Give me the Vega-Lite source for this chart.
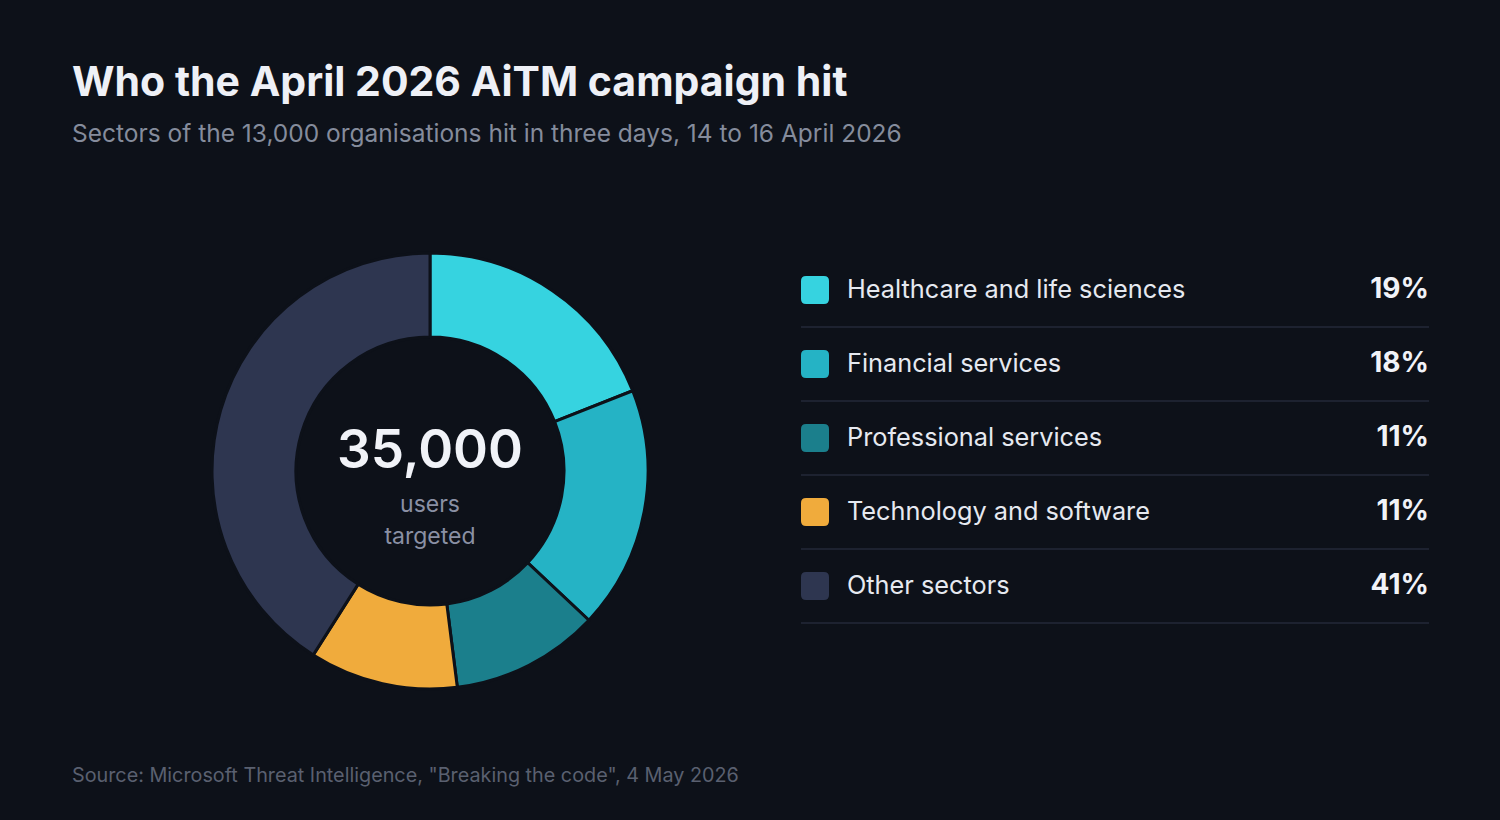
{
  "$schema": "https://vega.github.io/schema/vega-lite/v6.json",
  "description": "Sectors hit by the April 2026 AiTM campaign",
  "background": "#0d1119",
  "padding": {"left": 72, "right": 72, "top": 62, "bottom": 34},
  "title": {
    "text": "Who the April 2026 AiTM campaign hit",
    "subtitle": "Sectors of the 13,000 organisations hit in three days, 14 to 16 April 2026",
    "anchor": "start",
    "font": "Inter",
    "fontSize": 41,
    "fontWeight": 700,
    "color": "#eef0f6",
    "subtitleFont": "Inter",
    "subtitleFontSize": 24.5,
    "subtitleColor": "#858c9c",
    "subtitlePadding": 18,
    "offset": 100
  },
  "datasets": {
    "sectors": [
      {"sector": "Healthcare and life sciences", "share": 0.19, "rank": 1},
      {"sector": "Financial services", "share": 0.18, "rank": 2},
      {"sector": "Professional services", "share": 0.11, "rank": 3},
      {"sector": "Technology and software", "share": 0.11, "rank": 4},
      {"sector": "Other sectors", "share": 0.41, "rank": 5}
    ]
  },
  "data": {"name": "sectors"},
  "spacing": 12,
  "hconcat": [
    {
      "width": 716,
      "height": 436,
      "layer": [
        {
          "mark": {"type": "arc", "outerRadius": 218, "innerRadius": 134, "stroke": "#0d1119", "strokeWidth": 3},
          "encoding": {
            "theta": {"field": "share", "type": "quantitative", "stack": true},
            "order": {"field": "rank", "type": "quantitative"},
            "color": {
              "field": "sector",
              "type": "nominal",
              "scale": {
                "domain": ["Healthcare and life sciences", "Financial services", "Professional services", "Technology and software", "Other sectors"],
                "range": ["#36d3e0", "#25b3c5", "#1b7f8c", "#f0ab3c", "#2e3650"]
              },
              "legend": null
            }
          }
        },
        {
          "data": {"values": [{"users": 35000}]},
          "mark": {"type": "text", "font": "Inter", "fontSize": 53, "fontWeight": 600, "color": "#f1f3f8", "baseline": "alphabetic", "dy": -3},
          "encoding": {"text": {"field": "users", "type": "quantitative", "format": ","}}
        },
        {
          "data": {"values": [{"caption": "users\ntargeted"}]},
          "mark": {"type": "text", "font": "Inter", "fontSize": 23, "color": "#8a90a4", "baseline": "alphabetic", "lineBreak": "\n", "lineHeight": 32, "dy": 41},
          "encoding": {"text": {"field": "caption", "type": "nominal"}}
        },
        {
          "data": {"values": [{"source": "Source: Microsoft Threat Intelligence, \"Breaking the code\", 4 May 2026"}]},
          "mark": {"type": "text", "font": "Inter", "fontSize": 19.8, "color": "#5a6070", "align": "left", "baseline": "middle", "x": 0, "y": "height", "dy": 87},
          "encoding": {"text": {"field": "source", "type": "nominal"}}
        }
      ]
    },
    {
      "width": 628,
      "height": 370,
      "encoding": {
        "y": {
          "field": "sector",
          "type": "nominal",
          "scale": {
            "domain": ["Healthcare and life sciences", "Financial services", "Professional services", "Technology and software", "Other sectors"],
            "paddingInner": 0,
            "paddingOuter": 0
          },
          "axis": null
        }
      },
      "layer": [
        {
          "mark": {"type": "rule", "color": "#1d2230", "strokeWidth": 2},
          "encoding": {
            "y": {"field": "sector", "type": "nominal", "bandPosition": 1, "axis": null}
          }
        },
        {
          "mark": {
            "type": "point",
            "shape": "M -0.64 -1 L 0.64 -1 Q 1 -1 1 -0.64 L 1 0.64 Q 1 1 0.64 1 L -0.64 1 Q -1 1 -1 0.64 L -1 -0.64 Q -1 -1 -0.64 -1 Z",
            "size": 784,
            "filled": true,
            "opacity": 1,
            "x": 14
          },
          "encoding": {
            "color": {"field": "sector", "type": "nominal", "legend": null}
          }
        },
        {
          "mark": {"type": "text", "align": "left", "x": 46, "font": "Inter", "fontSize": 25.3, "color": "#e6e9f0"},
          "encoding": {"text": {"field": "sector", "type": "nominal"}}
        },
        {
          "mark": {"type": "text", "align": "right", "x": "width", "font": "Inter", "fontSize": 28, "fontWeight": 700, "color": "#f1f3f8"},
          "encoding": {"text": {"field": "share", "type": "quantitative", "format": ".0%"}}
        }
      ]
    }
  ],
  "config": {
    "view": {"stroke": null}
  }
}
